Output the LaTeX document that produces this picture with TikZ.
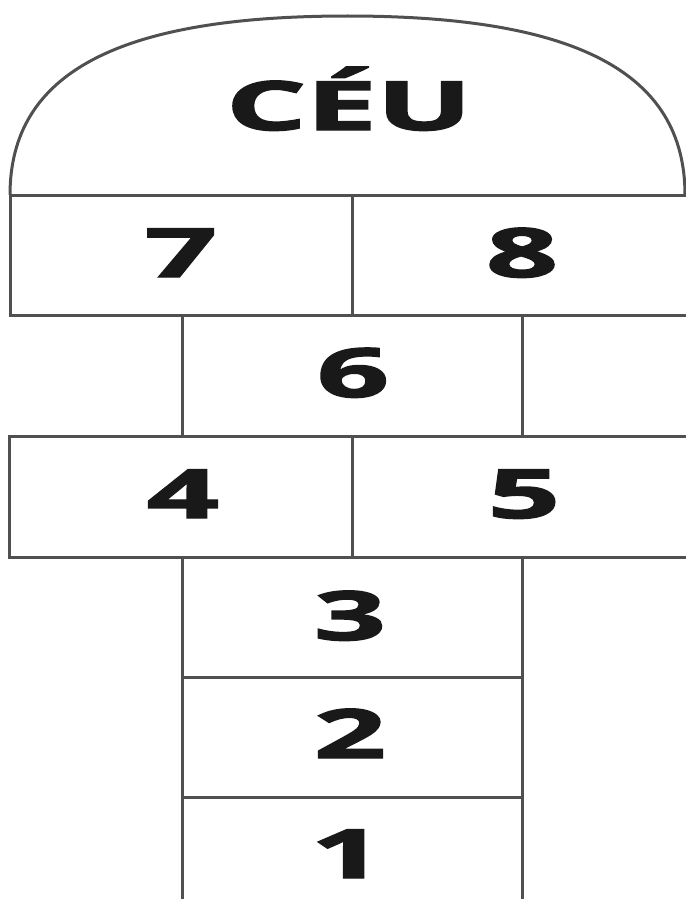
\documentclass[tikz,border=0pt]{standalone}
\usepackage{fontspec}
\setmainfont{Open Sans}[BoldFeatures={FakeBold=2}]
\definecolor{linegray}{RGB}{80,80,80}
\definecolor{txt}{RGB}{25,25,25}
\begin{document}
\begin{tikzpicture}[x=1pt,y=-1pt,
  grid/.style={draw=linegray,line width=3pt},
  lbl/.style={anchor=base,inner sep=0pt,text=txt,font=\fontsize{68}{70}\selectfont\bfseries}]
\useasboundingbox (0,0) rectangle (685,899);
% sky arc
\coordinate (al) at (10,195);
\coordinate (at) at (347.5,16);
\coordinate (ar) at (685,195);
\draw[grid] (al) .. controls (10,73) and (118,16) .. (at)
                 .. controls (577,16) and (685,73) .. (ar);
% row 7/8
\draw[grid] (10,195) rectangle (688,315);
\draw[grid] (352,195) -- (352,315);
% row 6
\draw[grid] (182,315) -- (182,436);
\draw[grid] (522,315) -- (522,436);
% row 4/5
\draw[grid] (9,436) rectangle (688,557);
\draw[grid] (352,436) -- (352,557);
% column 3,2,1
\draw[grid] (182,557) -- (182,902);
\draw[grid] (522,557) -- (522,902);
\draw[grid] (182,677) -- (522,677);
\draw[grid] (182,797) -- (522,797);
% labels
\node[lbl] (ceu) at (349,130) {\scalebox{1.85}[1]{CÉU}};
\node[lbl] (n7) at (181,277) {\scalebox{1.85}[1]{7}};
\node[lbl] (n8) at (522,277) {\scalebox{1.85}[1]{8}};
\node[lbl] (n6) at (353,397) {\scalebox{1.85}[1]{6}};
\node[lbl] (n4) at (183,518) {\scalebox{1.85}[1]{4}};
\node[lbl] (n5) at (524,518) {\scalebox{1.85}[1]{5}};
\node[lbl] (n3) at (350,640) {\scalebox{1.85}[1]{3}};
\node[lbl] (n2) at (350,758) {\scalebox{1.85}[1]{2}};
\node[lbl] (n1) at (347,878) {\scalebox{1.85}[1]{1}};
\end{tikzpicture}
\end{document}
